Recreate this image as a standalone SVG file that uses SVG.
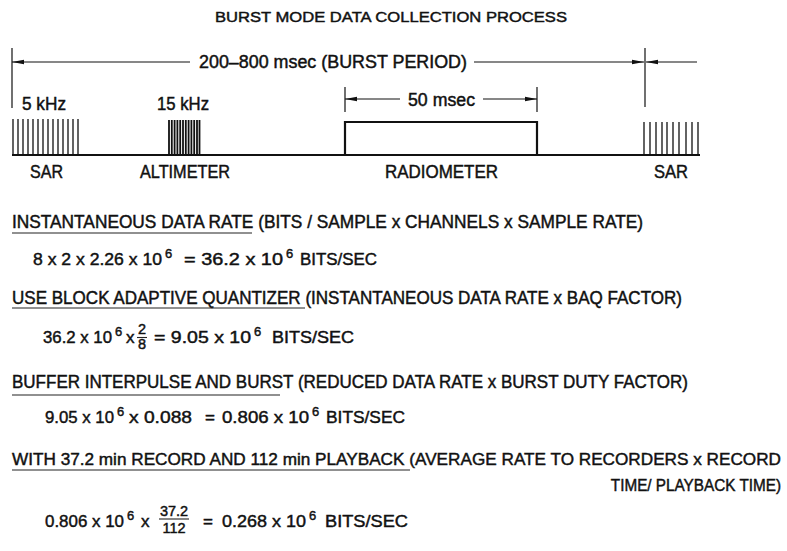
<svg xmlns="http://www.w3.org/2000/svg" width="787" height="551" viewBox="0 0 787 551">
<defs>
<marker id="ah" viewBox="0 0 12 6" refX="12" refY="3" markerWidth="12" markerHeight="6" markerUnits="userSpaceOnUse" orient="auto-start-reverse">
<path d="M0,0.8 L12,3 L0,5.2 Z" fill="#111"/>
</marker>
<style>
text{font-family:"Liberation Sans",Arial,sans-serif;font-size:17.5px;fill:#111;stroke:#111;stroke-width:0.45}
.f{font-size:17px}
.t{font-size:15px}
.sup{font-size:13px}
.fr{font-size:14.5px}
.ln{stroke:#111;stroke-width:1.2;fill:none}
.thick{stroke:#111;stroke-width:2.2;fill:none}
.ul{stroke:#222;stroke-width:1.1}
.p{stroke:#111;stroke-width:1.3}
</style>
</defs>
<rect width="787" height="551" fill="#fff"/>
<text class="t" x="215" y="22" textLength="352" lengthAdjust="spacingAndGlyphs">BURST MODE DATA COLLECTION PROCESS</text>

<g id="connectors">
<line class="ln" x1="12" y1="48" x2="12" y2="108"/>
<line class="ln" x1="645" y1="48" x2="645" y2="107"/>
<line class="ln" x1="190" y1="62" x2="12" y2="62" marker-end="url(#ah)"/>
<line class="ln" x1="474" y1="62" x2="644" y2="62" marker-end="url(#ah)"/>
<line class="ln" x1="697" y1="62" x2="646" y2="62" marker-end="url(#ah)"/>
<line class="ln" x1="345" y1="87" x2="345" y2="112"/>
<line class="ln" x1="537" y1="87" x2="537" y2="112"/>
<line class="ln" x1="400" y1="99" x2="345" y2="99" marker-end="url(#ah)"/>
<line class="ln" x1="483" y1="99" x2="537" y2="99" marker-end="url(#ah)"/>
</g>
<text x="199" y="68" textLength="268" lengthAdjust="spacingAndGlyphs">200–800 msec (BURST PERIOD)</text>
<text x="408" y="106" textLength="67" lengthAdjust="spacingAndGlyphs">50 msec</text>

<g id="baseline"><line class="thick" x1="12" y1="155" x2="700" y2="155"/></g>

<g id="sar-left">
<path class="p" d="M13,119V155M18,119V155M23,119V155M28,119V155M33,119V155M38,119V155M43,119V155M48,119V155M53,119V155M58,119V155M63,119V155M68,119V155M73,119V155M78,119V155"/>
<text x="22" y="110" textLength="44" lengthAdjust="spacingAndGlyphs">5 kHz</text>
<text x="30" y="178" textLength="33" lengthAdjust="spacingAndGlyphs">SAR</text>
</g>

<g id="altimeter">
<path stroke="#111" stroke-width="1.8" d="M169,120V155M171.8,120V155M174.6,120V155M177.4,120V155M180.2,120V155M183,120V155M185.8,120V155M188.6,120V155M191.4,120V155M194.2,120V155M197,120V155M199.5,120V155"/>
<text x="157" y="110" textLength="52" lengthAdjust="spacingAndGlyphs">15 kHz</text>
<text x="140" y="178" textLength="90" lengthAdjust="spacingAndGlyphs">ALTIMETER</text>
</g>

<g id="radiometer">
<polyline class="thick" points="345,155 345,122 537,122 537,155"/>
<text x="385" y="178" textLength="113" lengthAdjust="spacingAndGlyphs">RADIOMETER</text>
</g>

<g id="sar-right">
<path class="p" d="M644,122V155M650,122V155M656,122V155M662,122V155M667,122V155M673,122V155M679,122V155M686,122V155M692,122V155M698,122V155"/>
<text x="654" y="178" textLength="34" lengthAdjust="spacingAndGlyphs">SAR</text>
</g>

<g id="step1">
<text x="12" y="228" textLength="631" lengthAdjust="spacingAndGlyphs">INSTANTANEOUS DATA RATE (BITS / SAMPLE x CHANNELS x SAMPLE RATE)</text>
<line class="ul" x1="12" y1="233" x2="252" y2="233"/>
<text class="f" x="33" y="265" textLength="129" lengthAdjust="spacingAndGlyphs">8 x 2 x 2.26 x 10</text>
<text class="sup" x="165" y="258">6</text>
<text class="f" x="184" y="265" textLength="99" lengthAdjust="spacingAndGlyphs">= 36.2 x 10</text>
<text class="sup" x="286" y="258">6</text>
<text class="f" x="300" y="265" textLength="77" lengthAdjust="spacingAndGlyphs">BITS/SEC</text>
</g>

<g id="step2">
<text x="12" y="304" textLength="670" lengthAdjust="spacingAndGlyphs">USE BLOCK ADAPTIVE QUANTIZER (INSTANTANEOUS DATA RATE x BAQ FACTOR)</text>
<line class="ul" x1="12" y1="308" x2="305" y2="308"/>
<text class="f" x="43" y="343" textLength="69" lengthAdjust="spacingAndGlyphs">36.2 x 10</text>
<text class="sup" x="115" y="336">6</text>
<text class="f" x="126" y="343">x</text>
<text class="fr" x="142" y="334" text-anchor="middle">2</text>
<line class="ul" x1="137" y1="337.5" x2="147" y2="337.5"/>
<text class="fr" x="142" y="349" text-anchor="middle">8</text>
<text class="f" x="154" y="343" textLength="97" lengthAdjust="spacingAndGlyphs">= 9.05 x 10</text>
<text class="sup" x="254" y="336">6</text>
<text class="f" x="272" y="343" textLength="82" lengthAdjust="spacingAndGlyphs">BITS/SEC</text>
</g>

<g id="step3">
<text x="12" y="388" textLength="676" lengthAdjust="spacingAndGlyphs">BUFFER INTERPULSE AND BURST (REDUCED DATA RATE x BURST DUTY FACTOR)</text>
<line class="ul" x1="12" y1="395" x2="280" y2="395"/>
<text class="f" x="45" y="423" textLength="69" lengthAdjust="spacingAndGlyphs">9.05 x 10</text>
<text class="sup" x="117" y="416">6</text>
<text class="f" x="129" y="423" textLength="63" lengthAdjust="spacingAndGlyphs">x 0.088</text>
<text class="f" x="205" y="423">=</text>
<text class="f" x="222" y="423" textLength="87" lengthAdjust="spacingAndGlyphs">0.806 x 10</text>
<text class="sup" x="312" y="416">6</text>
<text class="f" x="326" y="423" textLength="79" lengthAdjust="spacingAndGlyphs">BITS/SEC</text>
</g>

<g id="step4">
<text class="f" x="12" y="465" textLength="769" lengthAdjust="spacingAndGlyphs">WITH 37.2 min RECORD AND 112 min PLAYBACK (AVERAGE RATE TO RECORDERS x RECORD</text>
<line class="ul" x1="12" y1="470" x2="410" y2="470"/>
<text class="f" transform="translate(781,491) scale(0.9,1)" x="0" y="0" text-anchor="end">TIME/ PLAYBACK TIME)</text>
<text class="f" x="45" y="527" textLength="79" lengthAdjust="spacingAndGlyphs">0.806 x 10</text>
<text class="sup" x="127" y="520">6</text>
<text class="f" x="141" y="527">x</text>
<text class="fr" x="174" y="516" text-anchor="middle">37.2</text>
<line class="ul" x1="159" y1="519" x2="189" y2="519"/>
<text class="fr" x="174" y="533" text-anchor="middle">112</text>
<text class="f" x="203" y="527">=</text>
<text class="f" x="222" y="527" textLength="84" lengthAdjust="spacingAndGlyphs">0.268 x 10</text>
<text class="sup" x="309" y="520">6</text>
<text class="f" x="325" y="527" textLength="83" lengthAdjust="spacingAndGlyphs">BITS/SEC</text>
</g>
</svg>
